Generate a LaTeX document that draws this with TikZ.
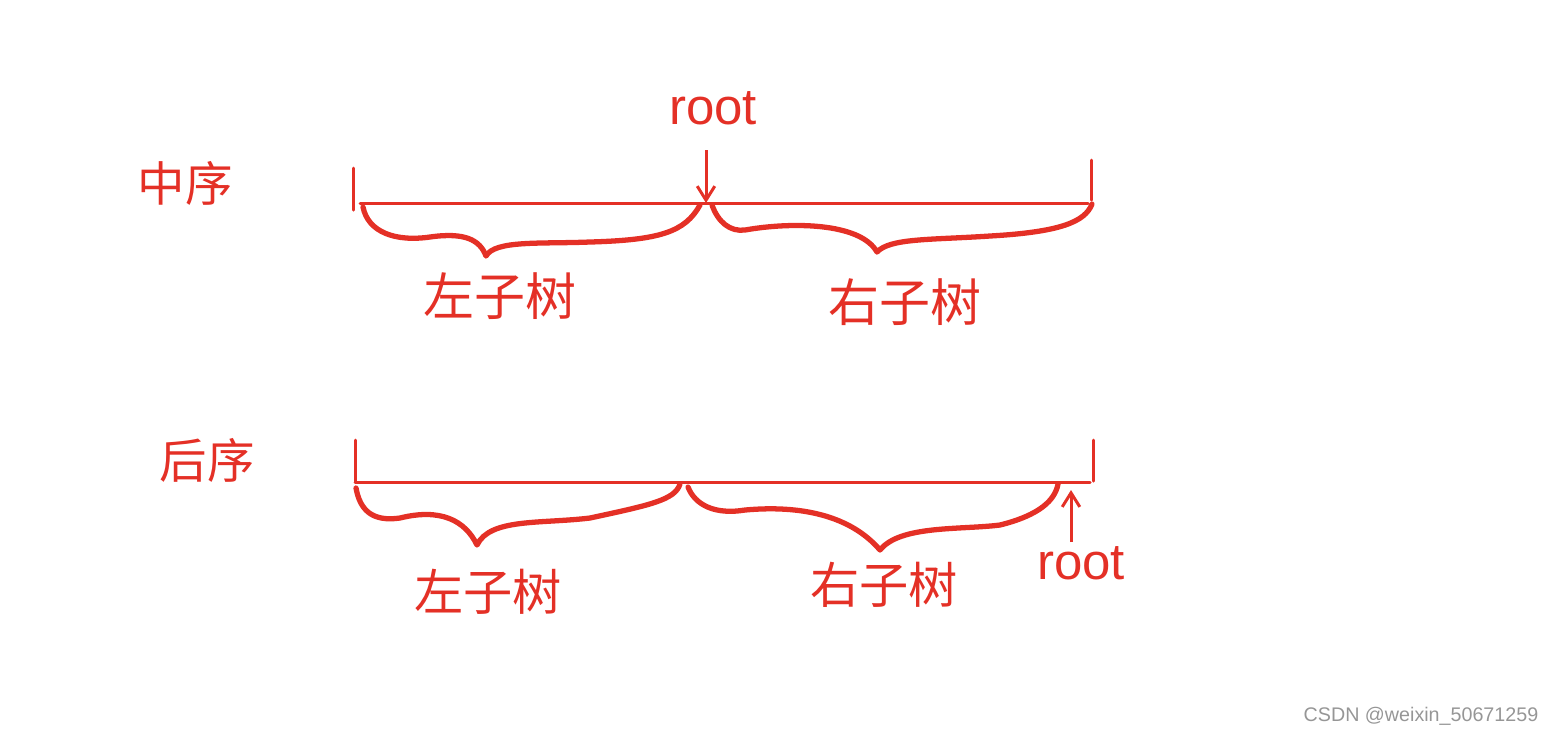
\documentclass[tikz,border=0pt]{standalone}
\usepackage{fontspec}
\usetikzlibrary{arrows.meta}
\setmainfont{Liberation Sans}
\newfontfamily\cjk{Noto Sans CJK SC}
\definecolor{pen}{RGB}{228,48,38}
\definecolor{wm}{RGB}{150,150,150}
\begin{document}
\begin{tikzpicture}[x=0.01cm,y=-0.01cm,
  ink/.style={draw=pen,line width=0.85pt,line cap=round},
  brace/.style={draw=pen,line width=1.5pt,line cap=round,line join=round},
  cn/.style={text=pen,font=\cjk\fontsize{13.5}{14}\selectfont,inner sep=0pt},
  big/.style={font=\cjk\fontsize{14}{15}\selectfont},
  rt/.style={text=pen,font=\fontsize{14.5}{16}\selectfont,inner sep=0pt},
  arr/.style={draw=pen,line width=0.85pt,-{Straight Barb[length=4pt,width=5pt]}}]
\useasboundingbox (0,0) rectangle (1552,735);
% ---------- top: 中序 ----------
\node[cn] (zx) at (185,183) {中序};
\coordinate (a1) at (353,168); \coordinate (a2) at (353,210);
\draw[ink] (a1) -- (a2);
\coordinate (l1) at (360,203); \coordinate (l2) at (1088,203);
\draw[ink] (l1) -- (l2);
\coordinate (b1) at (1091,160); \coordinate (b2) at (1091,200);
\draw[ink] (b1) -- (b2);
\node[rt] (r1) at (713,108) {root};
\coordinate (rp1) at (706,203);
\draw[arr] (706,150) -- (rp1);
% left brace
\coordinate (lb1) at (363,207); \coordinate (lb2) at (700,205);
\coordinate (lbt) at (486,256);
\draw[brace] (lb1) .. controls (368,232) and (395,242) .. (430,237)
  .. controls (465,232) and (480,240) .. (lbt)
  .. controls (495,240) and (540,244) .. (590,242)
  .. controls (660,240) and (685,232) .. (lb2);
% right brace
\coordinate (rb1) at (712,205); \coordinate (rb2) at (1092,204);
\coordinate (rbt) at (877,252);
\draw[brace] (rb1) .. controls (718,222) and (730,232) .. (745,230)
  .. controls (790,222) and (860,222) .. (rbt)
  .. controls (890,238) and (930,240) .. (990,236)
  .. controls (1060,232) and (1085,222) .. (rb2);
\node[cn,font=\cjk\fontsize{14.5}{15}\selectfont] (zz1) at (500,296) {左子树};
\node[cn,font=\cjk\fontsize{14.5}{15}\selectfont] (yz1) at (905,302) {右子树};
% ---------- bottom: 后序 ----------
\node[cn] (hx) at (207,460) {后序};
\coordinate (c1) at (355,440); \coordinate (c2) at (355,482);
\draw[ink] (c1) -- (c2);
\coordinate (m1) at (355,482); \coordinate (m2) at (1090,482);
\draw[ink] (m1) -- (m2);
\coordinate (d1) at (1093,440); \coordinate (d2) at (1093,481);
\draw[ink] (d1) -- (d2);
% left brace
\coordinate (lc1) at (356,488); \coordinate (lc2) at (680,484);
\coordinate (lct) at (477,545);
\draw[brace] (lc1) .. controls (360,510) and (372,522) .. (400,518)
  .. controls (440,508) and (465,520) .. (lct)
  .. controls (490,518) and (540,524) .. (590,518)
  .. controls (650,505) and (675,500) .. (lc2);
% right brace
\coordinate (rc1) at (688,487); \coordinate (rc2) at (1058,484);
\coordinate (rct) at (880,550);
\draw[brace] (rc1) .. controls (695,505) and (715,515) .. (745,510)
  .. controls (800,505) and (850,515) .. (rct)
  .. controls (900,525) and (960,530) .. (1000,525)
  .. controls (1040,515) and (1055,500) .. (rc2);
\node[rt] (r2) at (1081,563) {root};
\coordinate (rp2) at (1071,490);
\draw[arr] (1071,542) -- (rp2);
\node[cn,big] (zz2) at (488,592) {左子树};
\node[cn,big] (yz2) at (884,585) {右子树};
% watermark
\node[text=wm,font=\fontsize{5.6}{6}\selectfont,inner sep=0pt] (w) at (1421,716) {CSDN @weixin\_50671259};
\end{tikzpicture}
\end{document}
